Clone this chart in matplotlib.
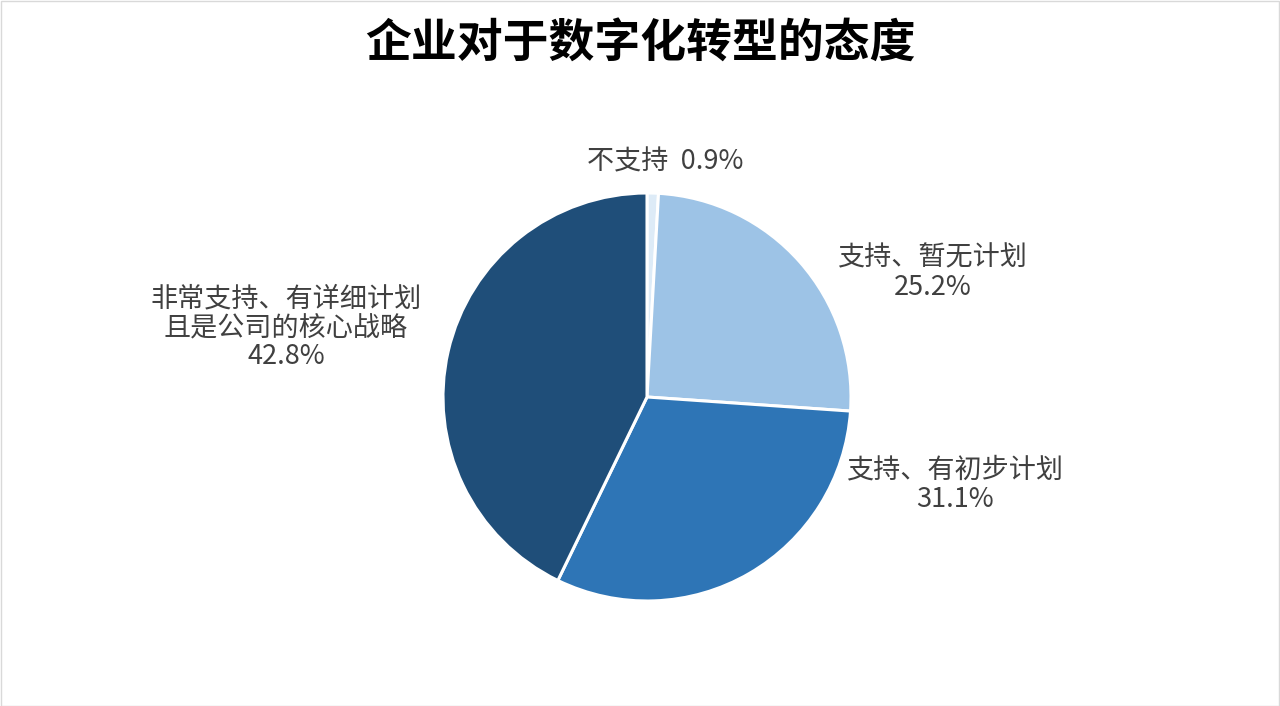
import matplotlib
matplotlib.use('Agg')
import matplotlib.pyplot as plt
from matplotlib.patches import Rectangle

plt.rcParams['font.family'] = ['Noto Sans CJK SC', 'DejaVu Sans']

# data
categories = ['不支持', '支持、暂无计划', '支持、有初步计划', '非常支持、有详细计划\n且是公司的核心战略']
values = [0.9, 25.2, 31.1, 42.8]
colors = ['#DDEBF7', '#9DC3E6', '#2E75B6', '#1F4E79']

# label layout (pie radius = 1), text alignment
label_pos = [(0.09, 1.15), (1.40, 0.61), (1.51, -0.43), (-1.77, 0.34)]
inline = [True, False, False, False]

W, H = 1280, 706
cx, cy, r = 647, 397, 204

fig = plt.figure(figsize=(W / 100, H / 100), dpi=100)
ax = fig.add_axes([0, 0, 1, 1])
ax.axis('off')

ax.pie(values, colors=colors, startangle=90, counterclock=False, radius=1,
       wedgeprops=dict(edgecolor='white', linewidth=2.2))
ax.set_xlim(-cx / r, (W - cx) / r)
ax.set_ylim(-(H - cy) / r, cy / r)
ax.set_aspect('auto')

for cat, v, (x, y), one in zip(categories, values, label_pos, inline):
    txt = f'{cat}  {v:.1f}%' if one else f'{cat}\n{v:.1f}%'
    ax.text(x, y, txt, ha='center', va='center', fontsize=19.5,
            color='#404040', linespacing=1.1)

fig.text(0.5, 1 - 45 / H, '企业对于数字化转型的态度', ha='center', va='center',
         fontsize=33, fontweight='bold', color='black')

fig.patches.append(Rectangle((0.5 / W, 0.5 / H), 1 - 1.5 / W, 1 - 1.5 / H,
                             transform=fig.transFigure, fill=False,
                             edgecolor='#D9D9D9', linewidth=1))

fig.savefig('out.png', dpi=100, facecolor='white')
